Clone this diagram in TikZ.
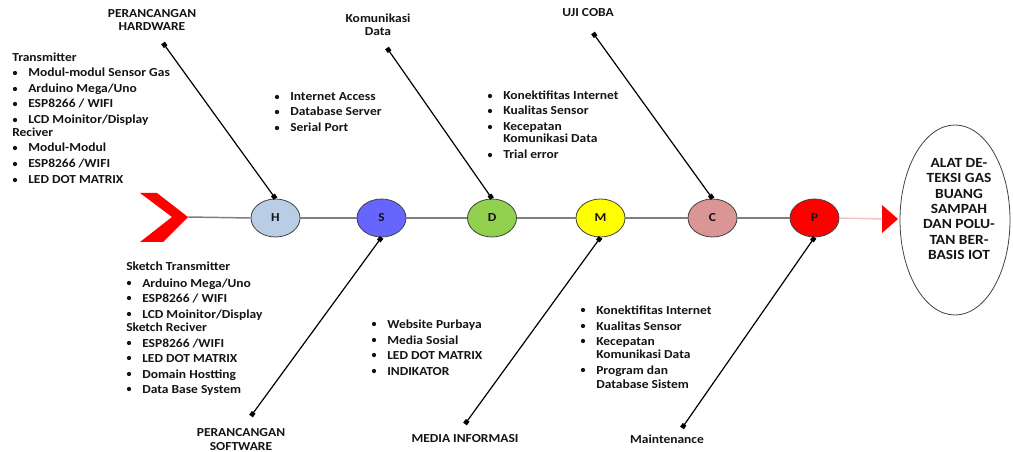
\documentclass[tikz,border=0pt]{standalone}
\usepackage{fontspec}
\setmainfont{Carlito}[FakeStretch=1.1]
\usetikzlibrary{shapes.geometric,arrows.meta}
\definecolor{cH}{HTML}{B9CDE5}
\definecolor{cS}{HTML}{6666FF}
\definecolor{cD}{HTML}{92D050}
\definecolor{cM}{HTML}{FFFF00}
\definecolor{cC}{HTML}{D99694}
\definecolor{cP}{HTML}{FF0000}
\definecolor{spinegray}{HTML}{7F7F7F}
\definecolor{spinepink}{HTML}{F2C4C4}
\definecolor{edgegray}{HTML}{404040}
\definecolor{txt}{HTML}{141414}
\newcommand\bitem[4]{%
  \fill[txt] (#2-13,#3) circle[radius=1.6pt];
  \node[item] (#1) at (#2,#3+4) {#4};}
\newcommand\citem[4]{%
  \node[item] (#1) at (#2,#3+4) {#4};}
\begin{document}
\begin{tikzpicture}[x=0.75pt,y=-0.75pt,
  txtfont/.style={font=\bfseries\fontsize{9.2}{10}\selectfont, text=txt},
  item/.style={txtfont, anchor=base west, inner sep=0pt},
  label/.style={txtfont, align=center, inner sep=0pt},
  bubble/.style={ellipse, draw=edgegray, line width=0.6pt, minimum width=36.75pt,
    minimum height=28.5pt, inner sep=0pt, txtfont},
  spine/.style={draw=spinegray, line width=1.1pt},
  bone/.style={draw=black, line width=0.9pt, {Square[length=3.4pt,width=3.4pt]}-{Square[length=3.4pt,width=3.4pt]}}]
\useasboundingbox (0,0) rectangle (1013,452);
% head chevron and tail triangle
\fill[cP] (140,193) -- (157,193) -- (188,217) -- (163,242) -- (140,242) -- (172,217) -- cycle;
\coordinate (tail) at (188,217);
\fill[cP] (882,205) -- (898,219) -- (882,233) -- cycle;
\coordinate (tri) at (882,219);
% bubbles
\node[bubble, fill=cH] (H) at (275.5,218) {H};
\node[bubble, fill=cS] (S) at (381.5,218) {S};
\node[bubble, fill=cD] (D) at (492,218) {D};
\node[bubble, fill=cM] (M) at (600.5,218) {M};
\node[bubble, fill=cC] (C) at (712.5,218) {C};
\node[bubble, fill=cP] (P) at (814.5,218) {P};
% spine
\draw[spine] (tail) -- (H.west);
\draw[spine] (H.east) -- (S.west);
\draw[spine] (S.east) -- (D.west);
\draw[spine] (D.east) -- (M.west);
\draw[spine] (M.east) -- (C.west);
\draw[spine] (C.east) -- (P.west);
\draw[draw=spinepink, line width=1.1pt] (P.east) -- (tri);
% goal
\node[ellipse, draw=edgegray, line width=0.6pt, minimum width=82.5pt, minimum height=142.5pt, inner sep=0pt] (goal) at (955,220) {};
\node[label, font=\bfseries\fontsize{10.5}{11.6}\selectfont] (goaltext) at (959,209) {ALAT DE-\\TEKSI GAS\\BUANG\\SAMPAH\\DAN POLU-\\TAN BER-\\BASIS IOT};
% bone ends
\coordinate (hw) at (163,43);
\coordinate (kd) at (387,48);
\coordinate (uc) at (593,33);
\coordinate (sw) at (251,416);
\coordinate (mi) at (465,424);
\coordinate (mt) at (682,428);
\draw[bone] (hw) -- (H.north);
\draw[bone] (kd) -- (D.north);
\draw[bone] (uc) -- (C.north);
\draw[bone] (sw) -- (S.south);
\draw[bone] (mi) -- (M.south);
\draw[bone] (mt) -- (P.south);
% bone labels
\node[label] (lhw) at (152,20) {PERANCANGAN\\HARDWARE};
\node[label] (lkd) at (378,24.5) {Komunikasi\\Data};
\node[label] (luc) at (588,13) {UJI COBA};
\node[label] (lsw) at (241,439.5) {PERANCANGAN\\SOFTWARE};
\node[label] (lmi) at (465,439) {MEDIA INFORMASI};
\node[label] (lmt) at (667,439) {Maintenance};
% top-left list
\citem{tx}{12}{58}{Transmitter}
\bitem{tx1}{28}{73}{Modul-modul Sensor Gas}
\bitem{tx2}{28}{89}{Arduino Mega/Uno}
\bitem{tx3}{28}{104}{ESP8266 / WIFI}
\bitem{tx4}{28}{120}{LCD Moinitor/Display}
\citem{rx}{12}{133}{Reciver}
\bitem{rx1}{28}{148}{Modul-Modul}
\bitem{rx2}{28}{164}{ESP8266 /WIFI}
\bitem{rx3}{28}{180}{LED DOT MATRIX}
% top S list
\bitem{s1}{290}{97}{Internet Access}
\bitem{s2}{290}{112}{Database Server}
\bitem{s3}{290}{128}{Serial Port}
% top D list
\bitem{d1}{503}{96}{Konektifitas Internet}
\bitem{d2}{503}{111}{Kualitas Sensor}
\bitem{d3}{503}{127}{Kecepatan}
\citem{d3b}{503}{139}{Komunikasi Data}
\bitem{d4}{503}{155}{Trial error}
% bottom-left list
\citem{st}{126}{267}{Sketch Transmitter}
\bitem{st1}{142}{283}{Arduino Mega/Uno}
\bitem{st2}{142}{298}{ESP8266 / WIFI}
\bitem{st3}{142}{314}{LCD Moinitor/Display}
\citem{sr}{126}{327}{Sketch Reciver}
\bitem{sr1}{142}{343}{ESP8266 /WIFI}
\bitem{sr2}{142}{358}{LED DOT MATRIX}
\bitem{sr3}{142}{374}{Domain Hostting}
\bitem{sr4}{142}{389}{Data Base System}
% M list
\bitem{m1}{387}{324}{Website Purbaya}
\bitem{m2}{387}{340}{Media Sosial}
\bitem{m3}{387}{355}{LED DOT MATRIX}
\bitem{m4}{387}{371}{INDIKATOR}
% P list
\bitem{p1}{596}{310}{Konektifitas Internet}
\bitem{p2}{596}{326}{Kualitas Sensor}
\bitem{p3}{596}{341}{Kecepatan}
\citem{p3b}{596}{354}{Komunikasi Data}
\bitem{p4}{596}{370}{Program dan}
\citem{p4b}{596}{384}{Database Sistem}
\end{tikzpicture}
\end{document}
